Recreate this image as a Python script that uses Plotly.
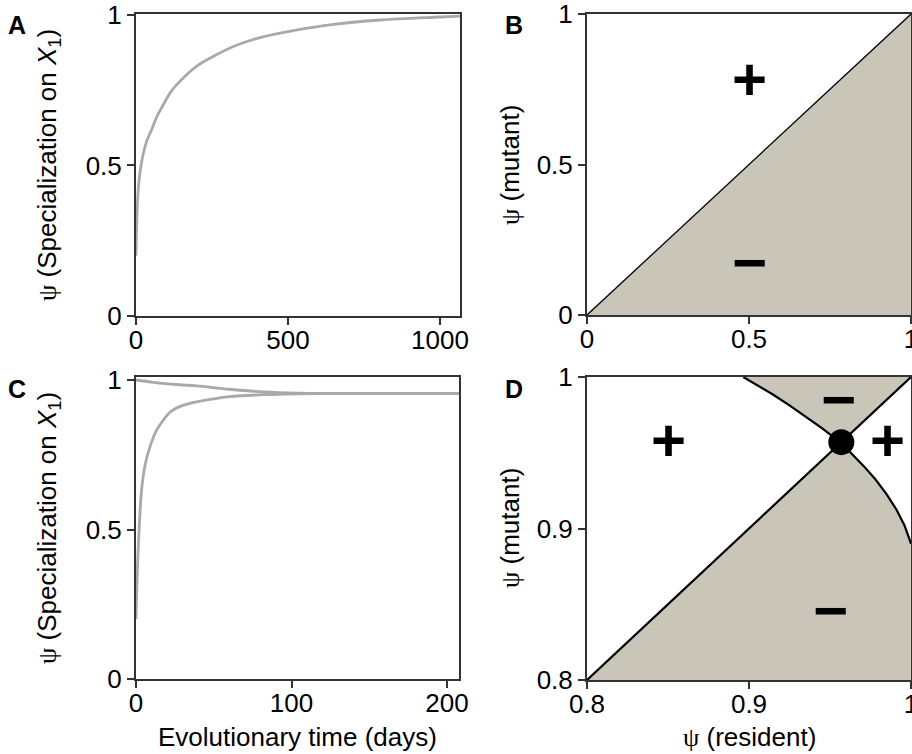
import plotly.graph_objects as go

# ---------------- data ----------------
# Panel A: trajectory of specialization over evolutionary time
A_time = [0, 2, 5, 10, 20, 35, 52, 70, 89, 115, 145, 200, 260, 309, 360, 418, 530, 638, 803, 1000, 1066]
A_psi = [0.20, 0.30, 0.38, 0.45, 0.52, 0.58, 0.62, 0.665, 0.70, 0.745, 0.78, 0.83, 0.865, 0.89, 0.91,
         0.927, 0.95, 0.967, 0.983, 0.993, 0.996]

# Panel C: two trajectories converging to the singular strategy
C_time_low = [0, 0.5, 1, 2, 3.7, 6, 9, 13, 17.6, 22, 28, 39, 50, 60, 82, 104, 130, 160, 208]
C_psi_low = [0.2, 0.3, 0.38, 0.5, 0.638, 0.72, 0.777, 0.83, 0.866, 0.893, 0.911, 0.927, 0.937,
             0.944, 0.951, 0.954, 0.955, 0.955, 0.955]
C_time_up = [0, 10, 17, 28, 39, 60, 82, 104, 130, 160, 208]
C_psi_up = [1.0, 0.993, 0.989, 0.984, 0.980, 0.969, 0.960, 0.956, 0.955, 0.955, 0.955]

# Panel B: pairwise invasibility plot (diagonal only)
B_diag = [0, 1]

# Panel D: pairwise invasibility plot near the singular strategy
D_diag = [0.8, 1.0]
D_curve_res = [0.8965, 0.905, 0.915, 0.925, 0.935, 0.945, 0.9572, 0.964, 0.971, 0.978, 0.985, 0.991, 0.996, 1.0]
D_curve_mut = [1.0, 0.9948, 0.9883, 0.9813, 0.974, 0.9662, 0.9562, 0.949, 0.941, 0.9325, 0.9225, 0.9125, 0.902, 0.890]
D_singular = 0.957
SING_IDX = 6

A_xticks = [0, 500, 1000]
C_xticks = [0, 100, 200]
unit_ticks = [0, 0.5, 1]
D_ticks = [0.8, 0.9, 1.0]
unit_labels = ["0", "0.5", "1"]
D_labels = ["0.8", "0.9", "1"]

# ---------------- styling ----------------
W, H = 912, 754
FONT = "Liberation Sans, Arial, Helvetica, sans-serif"
PSI = "<span style='font-family:Liberation Serif, DejaVu Serif, serif'>ψ</span>"
AXC = "#333333"
CURVE = "#a9a9a9"
FILL = "#c9c5b9"

def px_x(a, b):
    return [a / W, b / W]

def px_y(top, bottom):
    return [1 - bottom / H, 1 - top / H]

fig = go.Figure()

# Panel A
fig.add_trace(go.Scatter(x=A_time, y=A_psi, mode="lines", line=dict(color=CURVE, width=2.8, shape="spline"),
                         xaxis="x", yaxis="y", showlegend=False))

# Panel B
poly_bx = [B_diag[0], B_diag[1], B_diag[1], B_diag[0]]
poly_by = [B_diag[0], B_diag[1], B_diag[0], B_diag[0]]
fig.add_trace(go.Scatter(x=poly_bx, y=poly_by, mode="lines", fill="toself", fillcolor=FILL,
                         line=dict(width=0), xaxis="x2", yaxis="y2", showlegend=False, hoverinfo="skip"))
fig.add_trace(go.Scatter(x=B_diag, y=B_diag, mode="lines", line=dict(color="black", width=1.3),
                         xaxis="x2", yaxis="y2", showlegend=False))

# Panel C
fig.add_trace(go.Scatter(x=C_time_up, y=C_psi_up, mode="lines", line=dict(color=CURVE, width=2.8, shape="spline"),
                         xaxis="x3", yaxis="y3", showlegend=False))
fig.add_trace(go.Scatter(x=C_time_low, y=C_psi_low, mode="lines", line=dict(color=CURVE, width=2.8, shape="spline"),
                         xaxis="x3", yaxis="y3", showlegend=False))

# Panel D fills: top wedge (singular -> up the curve -> top-right corner) and bottom region
top_x = D_curve_res[SING_IDX::-1] + [D_diag[1]]
top_y = D_curve_mut[SING_IDX::-1] + [D_diag[1]]
fig.add_trace(go.Scatter(x=top_x, y=top_y, mode="lines", fill="toself", fillcolor=FILL,
                         line=dict(width=0), xaxis="x4", yaxis="y4", showlegend=False, hoverinfo="skip"))
bot_x = [D_diag[0]] + D_curve_res[SING_IDX:] + [D_diag[1], D_diag[0]]
bot_y = [D_diag[0]] + D_curve_mut[SING_IDX:] + [D_diag[0], D_diag[0]]
fig.add_trace(go.Scatter(x=bot_x, y=bot_y, mode="lines", fill="toself", fillcolor=FILL,
                         line=dict(width=0), xaxis="x4", yaxis="y4", showlegend=False, hoverinfo="skip"))
fig.add_trace(go.Scatter(x=D_diag, y=D_diag, mode="lines", line=dict(color="black", width=2.2),
                         xaxis="x4", yaxis="y4", showlegend=False))
fig.add_trace(go.Scatter(x=D_curve_res, y=D_curve_mut, mode="lines", line=dict(color="black", width=2.2),
                         xaxis="x4", yaxis="y4", showlegend=False))
fig.add_trace(go.Scatter(x=[D_singular], y=[D_singular], mode="markers",
                         marker=dict(color="black", size=26), xaxis="x4", yaxis="y4", showlegend=False))

axis_common = dict(showline=True, linecolor=AXC, linewidth=2, mirror=True, ticks="outside",
                   ticklen=7, tickwidth=2, tickcolor=AXC, showgrid=False, zeroline=False,
                   automargin=False, ticklabeloverflow="allow",
                   tickfont=dict(family=FONT, size=26, color="black"), fixedrange=True)
xcommon = dict(axis_common, ticklabelstandoff=-7)

fig.update_layout(
    template="none",
    width=W, height=H, margin=dict(l=0, r=0, t=0, b=0, autoexpand=False),
    paper_bgcolor="white", plot_bgcolor="white",
    xaxis=dict(domain=px_x(136, 460), range=[0, 1066], tickvals=A_xticks, ticktext=[str(v) for v in A_xticks],
               anchor="y", **xcommon),
    yaxis=dict(domain=px_y(14, 316), range=[0, 1.003], tickvals=unit_ticks, ticktext=unit_labels,
               anchor="x", **axis_common),
    xaxis2=dict(domain=px_x(587, 911), range=[0, 1], tickvals=unit_ticks, ticktext=unit_labels,
                anchor="y2", **xcommon),
    yaxis2=dict(domain=px_y(14, 315), range=[0, 1], tickvals=unit_ticks, ticktext=unit_labels,
                anchor="x2", **axis_common),
    xaxis3=dict(domain=px_x(136, 459), range=[0, 207.7], tickvals=C_xticks, ticktext=[str(v) for v in C_xticks],
                anchor="y3", **xcommon),
    yaxis3=dict(domain=px_y(377, 679), range=[0, 1.01], tickvals=unit_ticks, ticktext=unit_labels,
                anchor="x3", **axis_common),
    xaxis4=dict(domain=px_x(587, 911), range=[0.8, 1.0], tickvals=D_ticks, ticktext=D_labels,
                anchor="y4", **xcommon),
    yaxis4=dict(domain=px_y(377, 680), range=[0.8, 1.0], tickvals=D_ticks, ticktext=D_labels,
                anchor="x4", **axis_common),
)

ann = []
def paper_text(text, x, y, size=26, bold=False, angle=0):
    t = f"<b>{text}</b>" if bold else text
    ann.append(dict(text=t, x=x / W, y=1 - y / H, xref="paper", yref="paper", showarrow=False,
                    xanchor="center", yanchor="middle", textangle=angle,
                    font=dict(family=FONT, size=size, color="black")))

paper_text("A", 17, 25, size=25, bold=True)
paper_text("B", 514, 25, size=25, bold=True)
paper_text("C", 17, 389, size=25, bold=True)
paper_text("D", 514, 389, size=25, bold=True)
paper_text(PSI + " (Specialization on <i>X</i><sub>1</sub>)", 48, 165, angle=-90)
paper_text(PSI + " (Specialization on <i>X</i><sub>1</sub>)", 48, 528, angle=-90)
paper_text(PSI + " (mutant)", 510, 165, angle=-90)
paper_text(PSI + " (mutant)", 510, 528, angle=-90)
paper_text("Evolutionary time (days)", 297, 737)
paper_text(PSI + " (resident)", 749, 737)

def sign(text, x, y, xa, ya):
    ann.append(dict(text=f"<b>{text}</b>", x=x, y=y, xref=xa, yref=ya, showarrow=False,
                    xanchor="center", yanchor="middle", font=dict(family=FONT, size=60, color="black")))

sign("+", 0.5, 0.784, "x2", "y2")
sign("−", 0.503, 0.176, "x2", "y2")
sign("+", 0.8502, 0.9584, "x4", "y4")
sign("+", 0.9855, 0.9584, "x4", "y4")
sign("−", 0.9555, 0.9853, "x4", "y4")
sign("−", 0.9506, 0.8462, "x4", "y4")

fig.update_layout(annotations=ann)
fig.write_html("out.html", config={"displayModeBar": False, "staticPlot": True},
               post_script="document.body.style.margin='0';document.body.style.overflow='hidden';")
